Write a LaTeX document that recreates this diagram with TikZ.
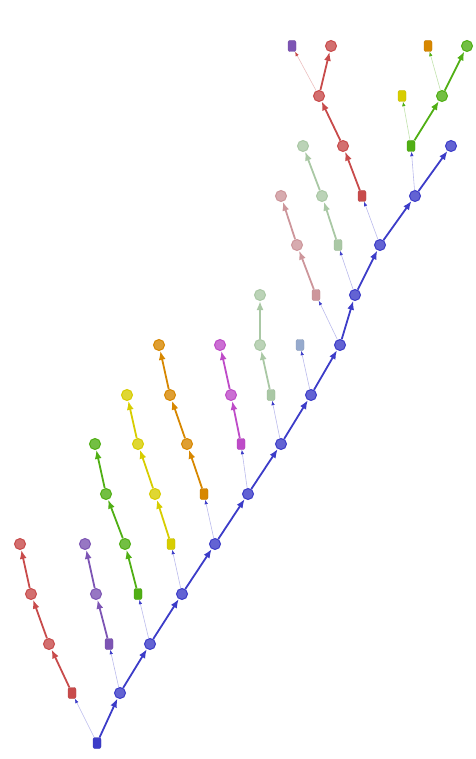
\documentclass[tikz,border=0pt]{standalone}
\usetikzlibrary{arrows.meta}
\definecolor{cblue}{RGB}{60,60,200}
\definecolor{cred}{RGB}{200,75,75}
\definecolor{cpurple}{RGB}{125,85,180}
\definecolor{cgreen}{RGB}{80,175,20}
\definecolor{cyellow}{RGB}{215,205,0}
\definecolor{corange}{RGB}{215,135,0}
\definecolor{cmagenta}{RGB}{190,75,200}
\definecolor{csage}{RGB}{170,200,165}
\definecolor{csteel}{RGB}{150,170,205}
\definecolor{cpink}{RGB}{205,150,155}
\tikzset{
    cnode/.style={circle, inner sep=0pt, minimum size=11pt, fill=#1!80!white, draw=#1, line width=1pt},
    rnode/.style={rectangle, rounded corners=2pt, inner sep=0pt, minimum width=8pt, minimum height=11pt, fill=#1, draw=#1!90!black, line width=0.4pt},
    thickedge/.style={draw=#1, line width=1.8pt, -{Latex[length=9pt,width=7pt]}},
    thinedge/.style={draw=#1!35, line width=0.6pt, -{Latex[length=4.5pt,width=3.5pt,color=#1]}},
}
\begin{document}
\begin{tikzpicture}[x=1pt,y=-1pt]
    \useasboundingbox (0,0) rectangle (475,759);
    % main spine
    \node[rnode=cblue] (b0) at (97,743) {};
    \foreach \i/\x/\y in {1/120/693, 2/150/644, 3/182/594, 4/215/544, 5/248/494, 6/281/444,
                          7/311/395, 8/340/345, 9/355/295, 10/380/245, 11/415/196, 12/451/146}
        \node[cnode=cblue] (b\i) at (\x,\y) {};
    \foreach \j [count=\i] in {0,...,11}
        \draw[thickedge=cblue] (b\j) -- (b\i);

    % side chains
    \node[rnode=cred] (r1) at (72,693) {};
    \node[cnode=cred] (r2) at (49,644) {};
    \node[cnode=cred] (r3) at (31,594) {};
    \node[cnode=cred] (r4) at (20,544) {};
    \draw[thinedge=cblue] (b0) -- (r1);
    \draw[thickedge=cred] (r1) -- (r2);
    \draw[thickedge=cred] (r2) -- (r3);
    \draw[thickedge=cred] (r3) -- (r4);

    \node[rnode=cpurple] (p1) at (109,644) {};
    \node[cnode=cpurple] (p2) at (96,594) {};
    \node[cnode=cpurple] (p3) at (85,544) {};
    \draw[thinedge=cblue] (b1) -- (p1);
    \draw[thickedge=cpurple] (p1) -- (p2);
    \draw[thickedge=cpurple] (p2) -- (p3);

    \node[rnode=cgreen] (g1) at (138,594) {};
    \node[cnode=cgreen] (g2) at (125,544) {};
    \node[cnode=cgreen] (g3) at (106,494) {};
    \node[cnode=cgreen] (g4) at (95,444) {};
    \draw[thinedge=cblue] (b2) -- (g1);
    \draw[thickedge=cgreen] (g1) -- (g2);
    \draw[thickedge=cgreen] (g2) -- (g3);
    \draw[thickedge=cgreen] (g3) -- (g4);

    \node[rnode=cyellow] (y1) at (171,544) {};
    \node[cnode=cyellow] (y2) at (155,494) {};
    \node[cnode=cyellow] (y3) at (138,444) {};
    \node[cnode=cyellow] (y4) at (127,395) {};
    \draw[thinedge=cblue] (b3) -- (y1);
    \draw[thickedge=cyellow] (y1) -- (y2);
    \draw[thickedge=cyellow] (y2) -- (y3);
    \draw[thickedge=cyellow] (y3) -- (y4);

    \node[rnode=corange] (o1) at (204,494) {};
    \node[cnode=corange] (o2) at (187,444) {};
    \node[cnode=corange] (o3) at (170,395) {};
    \node[cnode=corange] (o4) at (159,345) {};
    \draw[thinedge=cblue] (b4) -- (o1);
    \draw[thickedge=corange] (o1) -- (o2);
    \draw[thickedge=corange] (o2) -- (o3);
    \draw[thickedge=corange] (o3) -- (o4);

    \node[rnode=cmagenta] (m1) at (241,444) {};
    \node[cnode=cmagenta] (m2) at (231,395) {};
    \node[cnode=cmagenta] (m3) at (220,345) {};
    \draw[thinedge=cblue] (b5) -- (m1);
    \draw[thickedge=cmagenta] (m1) -- (m2);
    \draw[thickedge=cmagenta] (m2) -- (m3);

    \node[rnode=csage] (s1) at (271,395) {};
    \node[cnode=csage] (s2) at (260,345) {};
    \node[cnode=csage] (s3) at (260,295) {};
    \draw[thinedge=cblue] (b6) -- (s1);
    \draw[thickedge=csage] (s1) -- (s2);
    \draw[thickedge=csage] (s2) -- (s3);

    \node[rnode=csteel] (t1) at (300,345) {};
    \draw[thinedge=cblue] (b7) -- (t1);

    \node[rnode=cpink] (k1) at (316,295) {};
    \node[cnode=cpink] (k2) at (297,245) {};
    \node[cnode=cpink] (k3) at (281,196) {};
    \draw[thinedge=cblue] (b8) -- (k1);
    \draw[thickedge=cpink] (k1) -- (k2);
    \draw[thickedge=cpink] (k2) -- (k3);

    \node[rnode=csage] (l1) at (338,245) {};
    \node[cnode=csage] (l2) at (322,196) {};
    \node[cnode=csage] (l3) at (303,146) {};
    \draw[thinedge=cblue] (b9) -- (l1);
    \draw[thickedge=csage] (l1) -- (l2);
    \draw[thickedge=csage] (l2) -- (l3);

    % upper branches
    \node[rnode=cred] (q1) at (362,196) {};
    \node[cnode=cred] (q2) at (343,146) {};
    \node[cnode=cred] (q3) at (319,96) {};
    \node[cnode=cred] (q4) at (331,46) {};
    \node[rnode=cpurple] (q5) at (292,46) {};
    \draw[thinedge=cblue] (b10) -- (q1);
    \draw[thickedge=cred] (q1) -- (q2);
    \draw[thickedge=cred] (q2) -- (q3);
    \draw[thickedge=cred] (q3) -- (q4);
    \draw[thinedge=cred] (q3) -- (q5);

    \node[rnode=cgreen] (h1) at (411,146) {};
    \node[cnode=cgreen] (h2) at (442,96) {};
    \node[cnode=cgreen] (h3) at (467,46) {};
    \node[rnode=cyellow] (h4) at (402,96) {};
    \node[rnode=corange] (h5) at (428,46) {};
    \draw[thinedge=cblue] (b11) -- (h1);
    \draw[thickedge=cgreen] (h1) -- (h2);
    \draw[thickedge=cgreen] (h2) -- (h3);
    \draw[thinedge=cgreen] (h1) -- (h4);
    \draw[thinedge=cgreen] (h2) -- (h5);
\end{tikzpicture}
\end{document}
